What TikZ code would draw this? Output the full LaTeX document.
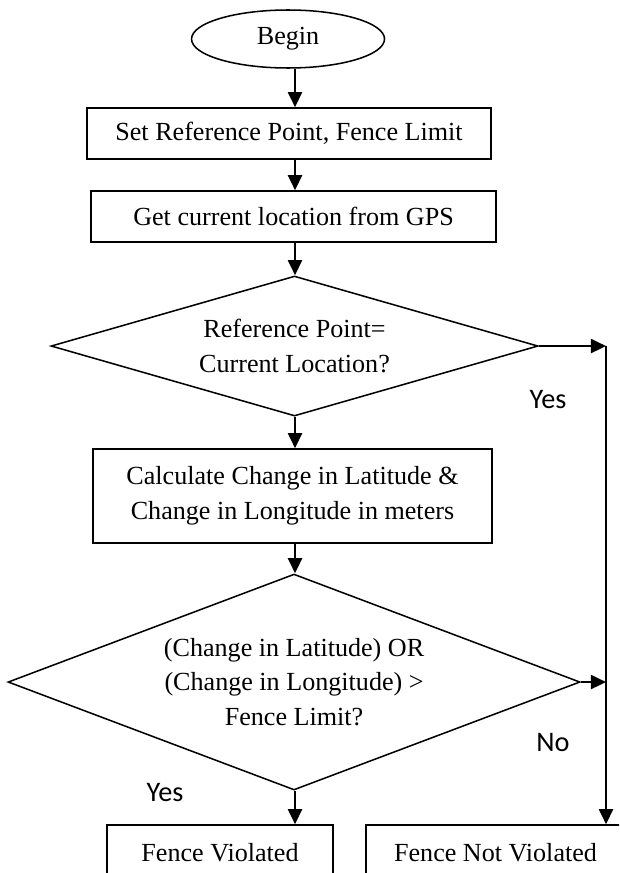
\documentclass[tikz,border=0pt]{standalone}
\usepackage{fontspec}
\setmainfont{Liberation Serif}
\newfontfamily\labelfont{Carlito}
\usetikzlibrary{shapes.geometric, arrows.meta}

\begin{document}
\begin{tikzpicture}[
		>={Triangle[length=7pt, width=6.5pt]},
		every node/.style={font=\fontsize{12pt}{16pt}\selectfont},
		startstop/.style={ellipse, draw, line width=0.7pt, inner sep=0pt, minimum width=3.118cm, minimum height=0.937cm},
		process/.style={rectangle, draw, line width=0.7pt, inner sep=0pt, align=center, minimum height=0.824cm},
		decision/.style={diamond, draw, line width=0.7pt, inner sep=0pt, aspect=2.6, align=center},
		answer/.style={font=\labelfont\fontsize{13pt}{15pt}\selectfont, inner sep=0pt},
		flow/.style={->, line width=1pt}
		]
		
		% --- frame of the page ---
		\clip (0,0) rectangle (10,-14.103);
		\coordinate (axis) at (4.766, 0);
		
		% --- main column ---
		\node[startstop] (begin) at (4.653, -0.630) {Begin};
		\node[process, minimum width=6.527cm] (setref) at (4.669, -2.157) {Set Reference Point, Fence Limit};
		\node[process, minimum width=6.543cm] (getgps) at (4.742, -3.498) {Get current location from GPS};
		\node[decision, minimum width=7.868cm, minimum height=2.262cm] (check1) at (4.758, -5.590)
		{Reference Point=\\Current Location?};
		\node[process, minimum width=6.446cm, minimum height=1.519cm] (calc) at (4.725, -8.013)
		{Calculate Change in Latitude \&\\Change in Longitude in meters};
		\node[decision, minimum width=9.241cm, minimum height=3.489cm] (check2) at (4.750, -11.018)
		{(Change in Latitude) OR\\(Change in Longitude) {>}\\Fence Limit?};
		
		% --- the two outcomes ---
		\node[process, minimum width=3.651cm, minimum height=0.889cm] (violated) at (3.554, -13.772) {Fence Violated};
		\node[process, minimum width=4.184cm, minimum height=0.889cm] (notviolated) at (8.005, -13.772) {Fence Not Violated};
		
		% Branch labels
		\node[answer] (yes1) at (8.853, -6.462) {Yes};
		\node[answer] (no2) at (8.934, -11.987) {No};
		\node[answer] (yes2) at (2.666, -12.795) {Yes};
		
		% --- arrows down the column ---
		\draw[flow] (begin.south -| axis) -- (setref.north -| axis);
		\draw[flow] (setref.south -| axis) -- (getgps.north -| axis);
		\draw[flow] (getgps.south -| axis) -- (check1.north -| axis);
		\draw[flow] (check1.south -| axis) -- (calc.north -| axis);
		\draw[flow] (calc.south -| axis) -- (check2.north -| axis);
		\draw[flow] (check2.south -| axis) -- (violated.north -| axis);
		
		% --- line down the right side ---
		\coordinate (turn) at (9.790, -5.590);
		\draw[flow] (check1.east) -- (turn);
		\draw[flow] (turn) -- (turn |- notviolated.north);
		\draw[flow] (check2.east) -- (check2.east -| turn);
		
	\end{tikzpicture}
\end{document}
